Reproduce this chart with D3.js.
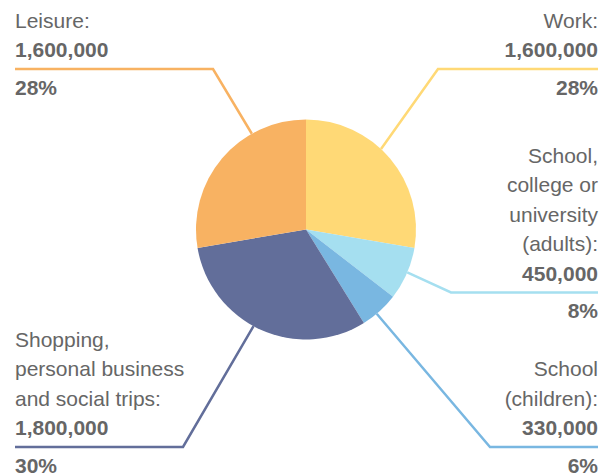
<!DOCTYPE html>
<html>
<head>
<meta charset="utf-8">
<script src="https://cdn.jsdelivr.net/npm/d3@7/dist/d3.min.js"></script>
<style>
  html, body { margin: 0; padding: 0; background: #fff; }
  svg { display: block; }
  text { font-family: "Liberation Sans", Arial, Helvetica, sans-serif; fill: #666; }
</style>
</head>
<body>
<svg id="chart" width="609" height="475"></svg>
<script>
// Journeys by purpose
const categories = ["Work", "School, college or university (adults)", "School (children)", "Shopping, personal business and social trips", "Leisure"];
const values = [1600000, 450000, 330000, 1800000, 1600000];
const percentLabels = ["28%", "8%", "6%", "30%", "28%"];
const labelLines = [
  ["Work:"],
  ["School,", "college or", "university", "(adults):"],
  ["School", "(children):"],
  ["Shopping,", "personal business", "and social trips:"],
  ["Leisure:"]
];
const colors = ["#FFD976", "#A5DFF0", "#79B7E1", "#626E9A", "#F8B262"];

// Callout layout: side, elbow point, and angle (deg, clockwise from 12 o'clock) where the leader meets the pie
const callouts = [
  { side: "right", ex: 438, ey: 69,  angle: 43 },
  { side: "right", ex: 451, ey: 292.5, angle: 113 },
  { side: "right", ex: 490, ey: 447, angle: 140 },
  { side: "left",  ex: 183, ey: 447, angle: 208.5 },
  { side: "left",  ex: 213, ey: 69,  angle: 330.5 }
];

const svg = d3.select("#chart");
const cx = 306, cy = 229.5, r = 110;
const leftX = 15, rightX = 598;
const lineH = 29.5;
const fontSize = 21;

const pie = d3.pie().sort(null).value(d => d)(values);
const arc = d3.arc().innerRadius(0).outerRadius(r);
const fmt = d3.format(",");

// Leader lines sit beneath the pie
const leaders = svg.append("g");
callouts.forEach((c, i) => {
  const a = c.angle * Math.PI / 180;
  const px = cx + r * Math.sin(a);
  const py = cy - r * Math.cos(a);
  const hx = c.side === "left" ? leftX : rightX;
  leaders.append("path")
    .attr("d", d3.line()([[hx, c.ey], [c.ex, c.ey], [px, py]]))
    .attr("fill", "none")
    .attr("stroke", colors[i])
    .attr("stroke-width", 2.5)
    .attr("stroke-linejoin", "miter");
});

svg.append("g")
  .attr("transform", `translate(${cx},${cy})`)
  .selectAll("path")
  .data(pie)
  .join("path")
  .attr("d", arc)
  .attr("fill", (d, i) => colors[i]);

// Text blocks: name lines and bold value above the rule, bold percentage below
const labels = svg.append("g").style("font-size", fontSize + "px");
callouts.forEach((c, i) => {
  const anchor = c.side === "left" ? "start" : "end";
  const x = c.side === "left" ? leftX : rightX;
  const valueBase = c.ey - 12;
  const lines = labelLines[i];
  lines.forEach((t, j) => {
    labels.append("text")
      .attr("x", x)
      .attr("y", valueBase - (lines.length - j) * lineH)
      .attr("text-anchor", anchor)
      .text(t);
  });
  labels.append("text")
    .attr("x", x)
    .attr("y", valueBase)
    .attr("text-anchor", anchor)
    .style("font-weight", "bold")
    .text(fmt(values[i]));
  labels.append("text")
    .attr("x", x)
    .attr("y", c.ey + 25.5)
    .attr("text-anchor", anchor)
    .style("font-weight", "bold")
    .text(percentLabels[i]);
});
</script>
</body>
</html>
